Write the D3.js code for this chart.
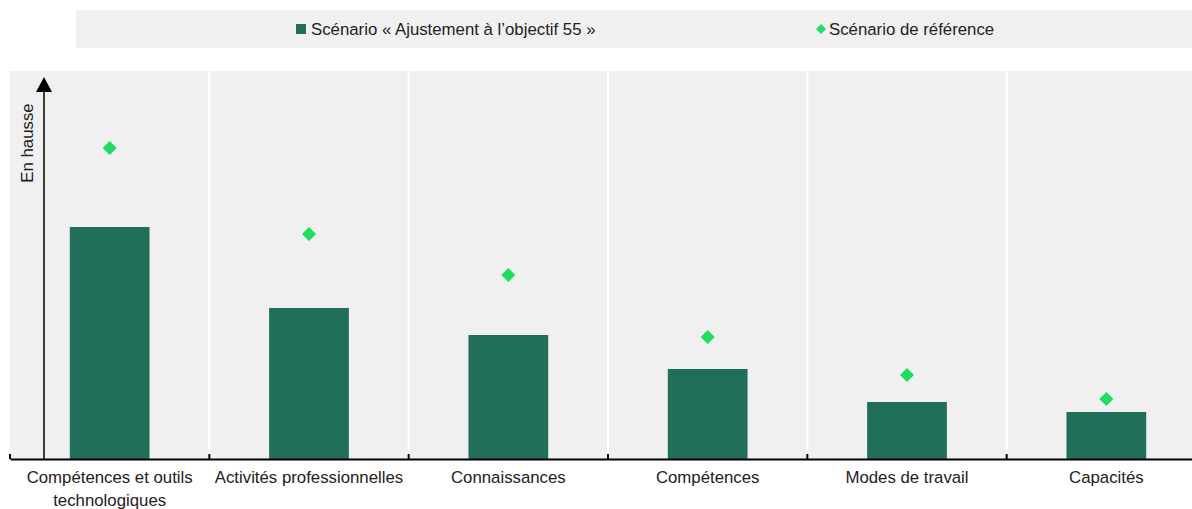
<!DOCTYPE html>
<html><head><meta charset="utf-8">
<script src="https://cdn.jsdelivr.net/npm/d3@7"></script>
<style>body{margin:0;background:#fff;}svg{display:block;font-family:"Liberation Sans Narrow","Arial Narrow","Liberation Sans",Arial,sans-serif;}</style>
</head><body><svg id="c" width="1192" height="509"></svg>
<script>
const categories = ["Compétences et outils technologiques","Activités professionnelles","Connaissances","Compétences","Modes de travail","Capacités"];
const fitFor55 = [232, 151, 124, 90, 57, 47];
const baseline = [311, 225, 184, 122, 84, 60];
const seriesNames = ["Scénario « Ajustement à l’objectif 55 »","Scénario de référence"];
const yAxisLabel = "En hausse";

const svg = d3.select("#c");
const W = 1192, H = 509;
const m = {left:10, top:71, right:-14, bottom:50};
const x = d3.scaleBand().domain(categories).range([m.left, W - m.right]).paddingInner(0).paddingOuter(0);
const y = d3.scaleLinear().domain([0, 388]).range([H - m.bottom, m.top]);

// plot background
svg.append("rect").attr("x", m.left).attr("y", m.top).attr("width", W - m.right - m.left).attr("height", y(0) - m.top).attr("fill", "#f0f0f0");
// white separators
svg.selectAll("line.sep").data(categories.slice(1)).join("line")
  .attr("x1", d => x(d)).attr("x2", d => x(d)).attr("y1", m.top).attr("y2", y(0))
  .attr("stroke", "#fff").attr("stroke-width", 2);

// bars
const bw = x.bandwidth() * 0.4;
svg.selectAll("rect.bar").data(categories).join("rect")
  .attr("x", d => x(d) + x.bandwidth()/2 - bw/2)
  .attr("y", (d,i) => y(fitFor55[i]))
  .attr("width", bw).attr("height", (d,i) => y(0) - y(fitFor55[i]))
  .attr("fill", "#216f5a");

// diamonds
svg.selectAll("path.dia").data(categories).join("path")
  .attr("transform", (d,i) => `translate(${x(d) + x.bandwidth()/2},${y(baseline[i])})`)
  .attr("d", "M0,-7L7,0L0,7L-7,0Z").attr("fill", "#1fdd60");

// x axis
const xAxis = d3.axisBottom(x).tickSize(0).tickFormat("");
const gx = svg.append("g").attr("transform", `translate(0,${y(0)})`).call(xAxis);
gx.select(".domain").attr("stroke", "#000").attr("stroke-width", 2);
// boundary ticks (inward)
const bounds = categories.map(d => x(d));
svg.selectAll("line.btick").data(bounds).join("line")
  .attr("x1", d => d).attr("x2", d => d).attr("y1", y(0) - 5).attr("y2", y(0))
  .attr("stroke", "#000").attr("stroke-width", 2);

// category labels
const lab = svg.append("g").selectAll("text").data(categories).join("text")
  .attr("x", d => x(d) + x.bandwidth()/2).attr("y", y(0) + 24)
  .attr("text-anchor", "middle").attr("font-size", 16.8).attr("fill", "#222");
lab.each(function(d){
  const t = d3.select(this);
  if (d === "Compétences et outils technologiques") {
    t.append("tspan").attr("x", x(d) + x.bandwidth()/2).text("Compétences et outils");
    t.append("tspan").attr("x", x(d) + x.bandwidth()/2).attr("dy", 23).text("technologiques");
  } else t.text(d);
});

// y axis arrow
svg.append("line").attr("x1", 44).attr("x2", 44).attr("y1", y(0)).attr("y2", 90)
  .attr("stroke", "#000").attr("stroke-width", 1.5);
svg.append("path").attr("d", "M44,77L52,92L36,92Z").attr("fill", "#000");
svg.append("text").attr("transform", "translate(33,143) rotate(-90)")
  .attr("text-anchor", "middle").attr("font-size", 16.8).attr("fill", "#222").text(yAxisLabel);

// legend
svg.append("rect").attr("x", 76).attr("y", 10).attr("width", W - 76).attr("height", 38).attr("fill", "#f0f0f0");
svg.append("rect").attr("x", 296).attr("y", 24).attr("width", 10).attr("height", 10).attr("fill", "#216f5a");
svg.append("text").attr("x", 311).attr("y", 35).attr("font-size", 16.8).attr("fill", "#222").text(seriesNames[0]);
svg.append("path").attr("d", "M821,24L826,29L821,34L816,29Z").attr("fill", "#1fdd60");
svg.append("text").attr("x", 829).attr("y", 35).attr("font-size", 16.8).attr("fill", "#222").text(seriesNames[1]);
</script></body></html>
